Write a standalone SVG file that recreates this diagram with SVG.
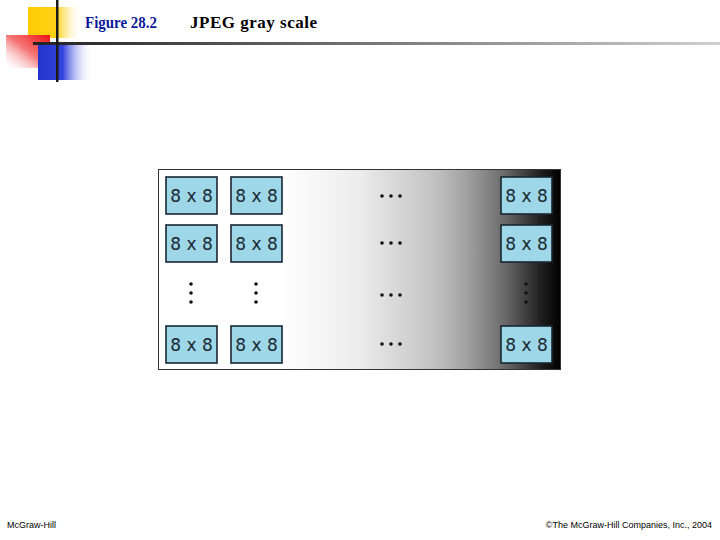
<svg xmlns="http://www.w3.org/2000/svg" width="720" height="540" viewBox="0 0 720 540">
<defs>
<linearGradient id="gray" x1="0" y1="0" x2="1" y2="0">
<stop offset="0" stop-color="#ffffff"/>
<stop offset="0.3" stop-color="#ffffff"/>
<stop offset="0.5" stop-color="#ececec"/>
<stop offset="0.68" stop-color="#c4c4c4"/>
<stop offset="0.77" stop-color="#a0a0a0"/>
<stop offset="0.86" stop-color="#6a6a6a"/>
<stop offset="0.95" stop-color="#202020"/>
<stop offset="1" stop-color="#000000"/>
</linearGradient>
<linearGradient id="yel" x1="0" y1="0" x2="1" y2="0">
<stop offset="0" stop-color="#ffcc00"/>
<stop offset="0.55" stop-color="#ffd21a"/>
<stop offset="1" stop-color="#fff4c8" stop-opacity="0"/>
</linearGradient>
<linearGradient id="red" x1="1" y1="0" x2="0" y2="1">
<stop offset="0" stop-color="#ee1111"/>
<stop offset="0.5" stop-color="#f57a7a"/>
<stop offset="1" stop-color="#ffffff" stop-opacity="0.2"/>
</linearGradient>
<linearGradient id="blu" x1="0" y1="0" x2="1" y2="0">
<stop offset="0" stop-color="#2233cc"/>
<stop offset="0.45" stop-color="#3344dd"/>
<stop offset="1" stop-color="#ffffff" stop-opacity="0"/>
</linearGradient>
<linearGradient id="hl" x1="0" y1="0" x2="1" y2="0">
<stop offset="0" stop-color="#222222"/>
<stop offset="0.4" stop-color="#666666"/>
<stop offset="1" stop-color="#d0d0d0"/>
</linearGradient>
<g id="dots-h"><circle cx="0" cy="0" r="1.8"/><circle cx="9" cy="0" r="1.8"/><circle cx="18" cy="0" r="1.8"/></g>
<g id="dots-v"><circle cx="0" cy="0" r="1.8"/><circle cx="0" cy="9" r="1.8"/><circle cx="0" cy="18" r="1.8"/></g>
</defs>
<style>
.box rect{fill:#9dd7e8;stroke:#1a2630;stroke-width:1.6}
.box text{font-family:"DejaVu Sans",sans-serif;font-size:17px;fill:#1a2630;text-anchor:middle}
.dots{fill:#111}
</style>
<rect width="720" height="540" fill="#ffffff"/>
<g id="decoration">
<rect x="28" y="7" width="52" height="31" fill="url(#yel)"/>
<rect x="6" y="35" width="44" height="33" fill="url(#red)"/>
<rect x="38" y="45" width="55" height="35" fill="url(#blu)"/>
<rect x="33" y="42" width="687" height="3" fill="url(#hl)"/>
<rect x="56" y="0" width="2.5" height="82" fill="#1a1a1a"/>
</g>
<g id="title" font-family="Liberation Serif, serif" font-size="16" font-weight="bold">
<text x="85" y="28" fill="#0a1a99" textLength="72" lengthAdjust="spacingAndGlyphs">Figure 28.2</text>
<text x="190" y="28" fill="#000000" font-size="17" textLength="127" lengthAdjust="spacing">JPEG gray scale</text>
</g>
<g id="frame">
<rect x="158.5" y="169.5" width="402" height="200" fill="url(#gray)" stroke="#333333" stroke-width="1"/>
</g>
<g id="b11" class="box"><rect x="166" y="177" width="51" height="37"/><text x="191.5" y="202">8 x 8</text></g>
<g id="b12" class="box"><rect x="231" y="177" width="51" height="37"/><text x="256.5" y="202">8 x 8</text></g>
<g id="b14" class="box"><rect x="501" y="177" width="51" height="37"/><text x="526.5" y="202">8 x 8</text></g>
<g id="b21" class="box"><rect x="166" y="225" width="51" height="37"/><text x="191.5" y="250">8 x 8</text></g>
<g id="b22" class="box"><rect x="231" y="225" width="51" height="37"/><text x="256.5" y="250">8 x 8</text></g>
<g id="b24" class="box"><rect x="501" y="225" width="51" height="37"/><text x="526.5" y="250">8 x 8</text></g>
<g id="b41" class="box"><rect x="166" y="326" width="51" height="37"/><text x="191.5" y="351">8 x 8</text></g>
<g id="b42" class="box"><rect x="231" y="326" width="51" height="37"/><text x="256.5" y="351">8 x 8</text></g>
<g id="b44" class="box"><rect x="501" y="326" width="51" height="37"/><text x="526.5" y="351">8 x 8</text></g>
<g id="connectors" class="dots">
<use href="#dots-h" x="382" y="196"/>
<use href="#dots-h" x="382" y="243"/>
<use href="#dots-h" x="382" y="295"/>
<use href="#dots-h" x="382" y="344"/>
<use href="#dots-v" x="191" y="284"/>
<use href="#dots-v" x="256" y="284"/>
<use href="#dots-v" x="526" y="284"/>
</g>
<g id="footer" font-family="Liberation Sans Narrow, Liberation Sans, sans-serif" font-size="9" fill="#000">
<text x="7" y="528">McGraw-Hill</text>
<text x="712" y="528" text-anchor="end">©The McGraw-Hill Companies, Inc., 2004</text>
</g>
</svg>
